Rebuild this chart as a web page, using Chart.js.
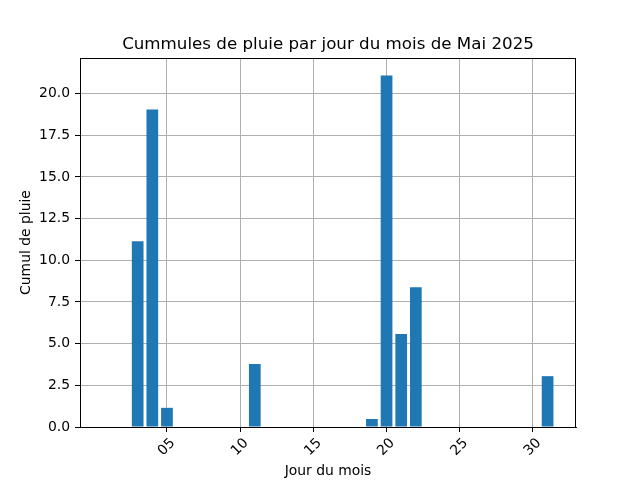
<!DOCTYPE html>
<html><head><meta charset="utf-8">
<script src="https://cdn.jsdelivr.net/npm/chart.js@4.4.1/dist/chart.umd.min.js"></script>
<style>html,body{margin:0;padding:0;background:#fff}</style>
</head><body>
<canvas id="c" width="640" height="480"></canvas>
<script>
const days = [1,2,3,4,5,6,7,8,9,10,11,12,13,14,15,16,17,18,19,20,21,22,23,24,25,26,27,28,29,30,31];
const rain = [0,0,11.15,19.05,1.15,0,0,0,0,0,3.78,0,0,0,0,0,0,0,0.48,21.08,5.58,8.38,0,0,0,0,0,0,0,0,3.05];
const xTicks = [5,10,15,20,25,30];
const yTicks = [0,2.5,5,7.5,10,12.5,15,17.5,20];
const titleText = 'Cummules de pluie par jour du mois de Mai 2025';
const xLabel = 'Jour du mois';
const yLabel = 'Cumul de pluie';

const FONT = 'DejaVu Sans';
const barW = 0.8;
const dMin = Math.min(...days) - barW/2, dMax = Math.max(...days) + barW/2;
const xPad = 0.05 * (dMax - dMin);
const yMax = Math.max(...rain) * 1.05;

const frame = {
  id: 'frame',
  afterDraw(chart) {
    const {ctx, chartArea: a} = chart;
    ctx.save();
    ctx.strokeStyle = '#000';
    ctx.lineWidth = 1;
    ctx.strokeRect(Math.round(a.left) + 0.5, Math.round(a.top) + 0.5, Math.round(a.right - a.left) - 1, Math.round(a.bottom - a.top));
    ctx.restore();
  }
};

new Chart(document.getElementById('c'), {
  type: 'bar',
  data: {
    datasets: [{
      data: days.map((d, i) => ({x: d, y: rain[i]})),
      backgroundColor: '#1f77b4',
      borderWidth: 0,
      barPercentage: barW,
      categoryPercentage: 1.0
    }]
  },
  options: {
    responsive: false,
    animation: false,
    devicePixelRatio: 1,
    layout: {padding: {left: 0, right: 64, top: 0, bottom: 0}},
    plugins: {
      legend: {display: false},
      tooltip: {enabled: false},
      title: {
        display: true, text: titleText, fullSize: false,
        color: '#000',
        font: {family: FONT, size: 16.7, weight: 'normal', lineHeight: 1.2},
        padding: {top: 35, bottom: 3}
      }
    },
    scales: {
      x: {
        type: 'linear', offset: false, z: 1,
        min: dMin - xPad, max: dMax + xPad,
        afterBuildTicks: s => { s.ticks = xTicks.map(v => ({value: v})); },
        afterFit: s => { s.height = 53; },
        grid: {color: '#b0b0b0', lineWidth: 1, tickColor: '#000', tickLength: 5, offset: false},
        border: {color: '#000', width: 1},
        ticks: {
          color: '#000', minRotation: 45, maxRotation: 45, padding: 3, labelOffset: 6,
          font: {family: FONT, size: 13.9},
          callback: v => String(v).padStart(2, '0')
        },
        title: {display: true, text: xLabel, color: '#000', font: {family: FONT, size: 13.9}, padding: {top: 0, bottom: 0}}
      },
      y: {
        type: 'linear', min: 0, max: yMax, z: 1,
        afterBuildTicks: s => { s.ticks = yTicks.map(v => ({value: v})); },
        afterFit: s => { s.width = 80; },
        grid: {color: '#b0b0b0', lineWidth: 1, tickColor: '#000', tickLength: 5},
        border: {color: '#000', width: 1},
        ticks: {
          color: '#000', padding: 5,
          font: {family: FONT, size: 13.9},
          callback: v => Number(v).toFixed(1)
        },
        title: {display: true, text: yLabel, color: '#000', font: {family: FONT, size: 13.9}, padding: {top: 18, bottom: 0}}
      }
    }
  },
  plugins: [frame]
});
</script>
</body></html>
